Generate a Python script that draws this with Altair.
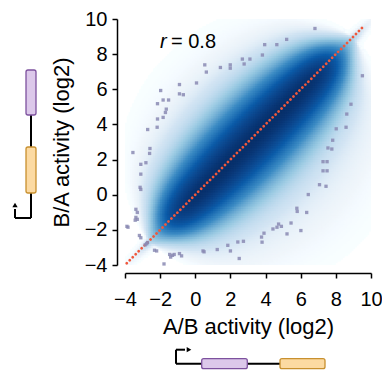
import altair as alt
import numpy as np
import pandas as pd

# ---- values ----
tick_values = [-4, -2, 0, 2, 4, 6, 8, 10]
axis_domain = [-4, 10]
x_title = "A/B activity (log2)"
y_title = "B/A activity (log2)"
r_label = "r"
r_value = "= 0.8"

# density cloud (estimated shape of the smoothed point cloud)
cloud_center_x = 3.2
cloud_center_y = 3.1
cloud_half_len = 7.0       # along the diagonal, where the cloud fades out
cloud_end_blur = 0.6
cloud_taper_len = 8.2      # width tapers to zero here
cloud_sd_across = 1.45     # spread across the diagonal at the middle
tail_weight = 0.12         # faint outer halo
tail_scale_below = 2.0     # halo width (x > y side) relative to core
tail_scale_above = 1.6     # halo width (y > x side) relative to core
density_levels = [0.0, 0.01, 0.05, 0.17, 0.4, 0.65, 0.9, 1.0]
density_colors = ["#ffffff", "#f0f6fb", "#d2e4f3", "#9ccbe3", "#3d8cc4", "#0b5ba8", "#0a3d80", "#08306b"]

# identity line
diag_x = [-3.9, 9.6]
diag_y = [-3.9, 9.6]

# outlying points
pts_x = [6.81, 5.2, 4.64, 3.95, 3.82, 3.11, 2.68, 2.78, 1.99, 1.99, 1.43, 0.54, 0.63, 0.07,
         -0.9, -0.9, -0.68, -1.97, -1.83, -1.52, -2.15, -1.65, -1.7, -1.83, -2.15, -2.17,
         -2.71, -2.58, -2.6, -3.55, -2.81, -3.1, -3.1, -3.14, -3.1, -3.38, -3.3, -3.38,
         -3.3, -3.42, -3.83, -3.18, -3.1, -2.77, -2.85, -2.72, -2.32, -2.2, -1.46, -1.3,
         -1.4, -1.2, -0.9, -0.78, -1.78, 0.44, 0.5, 1.25, 1.85, 2.0, 2.5, 2.42, 2.74,
         3.77, 3.8, 3.91, 4.42, 4.74, 4.9, 4.65, 5.22, 5.45, 6.01, 5.78, 5.8, 6.34, 6.43,
         7.07, 7.44, 7.27, 7.5, 7.27, 7.5, 7.55, 7.77, 7.82, 8.02, 8.58, 8.62, 8.86, 9.51,
         -3.89]
pts_y = [9.46, 8.84, 8.54, 8.54, 7.95, 7.72, 7.72, 7.44, 7.39, 7.2, 7.24, 7.39, 6.98, 6.36,
         6.27, 5.74, 5.69, 5.93, 5.39, 5.39, 5.18, 4.87, 4.68, 4.4, 4.31, 3.84,
         3.71, 2.63, 2.35, 2.4, 1.82, 1.73, 1.17, 0.42, 0.3, -0.83, -1.01, -1.29,
         -1.4, -1.45, -1.85, -2.32, -2.45, -2.79, -2.85, -2.72, -3.16, -3.2, -3.4, -3.45,
         -3.55, -3.4, -3.35, -3.48, -3.94, -3.2, -3.25, -3.12, -2.88, -3.2, -3.63, -2.69, -2.65,
         -2.41, -2.7, -2.19, -1.95, -1.67, -1.8, -1.85, -2.23, -1.61, -2.04, -0.77, -0.95, -1.01, 0.01,
         0.57, 0.48, 1.36, 1.36, 1.88, 1.88, 2.66, 2.6, 3.1, 3.75, 3.84, 4.59, 5.15, 6.77,
         -1.8]

# ---- density grid ----
step = 0.1
centers = np.arange(axis_domain[0] + step / 2, axis_domain[1], step)
gx, gy = np.meshgrid(centers, centers)
dx = gx - cloud_center_x
dy = gy - cloud_center_y
u = (dx + dy) / np.sqrt(2)
v = (dx - dy) / np.sqrt(2)
amp = 1.0 / (1.0 + np.exp((np.abs(u) - cloud_half_len) / cloud_end_blur))
width = cloud_sd_across * np.sqrt(np.clip(1 - (u / cloud_taper_len) ** 2, 0.01, None))
tail_w = width * np.where(v > 0, tail_scale_below, tail_scale_above)
dens = amp * (np.exp(-0.5 * (v / width) ** 2) + tail_weight * np.exp(-0.5 * (v / tail_w) ** 2))
dens = dens / dens.max()
keep = dens > 0.0015
grid = pd.DataFrame({
    "x0": np.round(gx[keep] - step / 2, 3),
    "y0": np.round(gy[keep] - step / 2, 3),
    "d": np.round(dens[keep], 4),
})

# ---- layout (page pixels) ----
OX, OY = 125, 19          # page position of the plot's top-left corner
PLOT_W, PLOT_H = 246, 246
FONT = "Liberation Sans"

xscale = alt.Scale(domain=axis_domain, nice=False, zero=False)
yscale = alt.Scale(domain=axis_domain, nice=False, zero=False)
common_axis = dict(values=tick_values, offset=8, grid=False, domainColor="black", domainWidth=1.5,
                   tickColor="black", tickWidth=1.5, tickSize=5, labelFontSize=20, labelColor="black",
                   labelFont=FONT, titleFont=FONT, titleFontSize=22, titleFontWeight="normal",
                   titleColor="black", labelFlush=False)
xaxis = alt.Axis(title=x_title, labelPadding=11, titlePadding=7, **common_axis)
yaxis = alt.Axis(title=y_title, labelPadding=5, titlePadding=11, **common_axis)

# cells are drawn twice their size so that each is covered by its later neighbours (no seams)
density = alt.Chart(grid).transform_calculate(
    x1=f"datum.x0 + {2 * step}", y1=f"datum.y0 + {2 * step}"
).mark_rect(clip=True).encode(
    x=alt.X("x0:Q", scale=xscale, axis=xaxis),
    x2="x1:Q",
    y=alt.Y("y0:Q", scale=yscale, axis=yaxis),
    y2="y1:Q",
    color=alt.Color("d:Q", scale=alt.Scale(domain=density_levels, range=density_colors), legend=None),
)

diag = alt.Chart(pd.DataFrame({"x": diag_x, "y": diag_y})).mark_line(
    color="#f0583c", strokeWidth=2.8, strokeDash=[0.01, 4.2], strokeCap="round"
).encode(
    x=alt.X("x:Q", scale=xscale, axis=xaxis),
    y=alt.Y("y:Q", scale=yscale, axis=yaxis),
)

points = alt.Chart(pd.DataFrame({"x": pts_x, "y": pts_y})).mark_square(
    size=11, color="#8a8ab3", opacity=0.85
).encode(
    x=alt.X("x:Q", scale=xscale, axis=xaxis),
    y=alt.Y("y:Q", scale=yscale, axis=yaxis),
)

one = alt.Data(values=[{"k": 0}])


def px(x):
    return x - OX


def py(y):
    return y - OY


txt_r = alt.Chart(one).mark_text(
    text=r_label, font=FONT, fontSize=20, fontStyle="italic", align="left", baseline="alphabetic", color="black"
).encode(x=alt.value(px(160)), y=alt.value(py(48)))
txt_v = alt.Chart(one).mark_text(
    text=r_value, font=FONT, fontSize=20, align="left", baseline="alphabetic", color="black"
).encode(x=alt.value(px(171)), y=alt.value(py(48)))

PURPLE_FILL, PURPLE_EDGE = "#dcc8ea", "#7d519e"
ORANGE_FILL, ORANGE_EDGE = "#fcdaa2", "#c8902f"


def rule(x, x2, y, y2):
    return alt.Chart(one).mark_rule(color="black", strokeWidth=2).encode(
        x=alt.value(px(x)), x2=alt.value(px(x2)), y=alt.value(py(y)), y2=alt.value(py(y2)))


def box(x, x2, y, y2, fill, edge):
    return alt.Chart(one).mark_rect(fill=fill, stroke=edge, strokeWidth=1.3, cornerRadius=2).encode(
        x=alt.value(px(x)), x2=alt.value(px(x2)), y=alt.value(py(y)), y2=alt.value(py(y2)))


def head(x, y, shape):
    return alt.Chart(one).mark_point(shape=shape, filled=True, color="black", size=28, opacity=1).encode(
        x=alt.value(px(x)), y=alt.value(py(y)))


BY = -3  # vertical nudge of bottom construct so the page does not scroll
deco = [
    # left construct (vertical)
    rule(31, 31, 115, 218),
    rule(15, 31, 218, 218),
    rule(15, 15, 209, 218),
    head(15, 205, "triangle-up"),
    box(26, 36, 70, 115, PURPLE_FILL, PURPLE_EDGE),
    box(26, 36, 147, 193, ORANGE_FILL, ORANGE_EDGE),
    # bottom construct (horizontal)
    rule(176, 176, 352.7 + BY, 366.7 + BY),
    rule(176, 185, 352.7 + BY, 352.7 + BY),
    head(189, 352.7 + BY, "triangle-right"),
    rule(176, 280, 366.7 + BY, 366.7 + BY),
    box(201.7, 247.3, 361.7 + BY, 371.7 + BY, PURPLE_FILL, PURPLE_EDGE),
    box(280, 325, 361.7 + BY, 371.7 + BY, ORANGE_FILL, ORANGE_EDGE),
]

chart = alt.layer(density, diag, points, txt_r, txt_v, *deco).properties(
    width=PLOT_W, height=PLOT_H,
    autosize=alt.AutoSizeParams(type="none"),
    padding={"left": OX - 8, "top": OY - 8, "right": 11, "bottom": 362 - (OY - 8) - PLOT_H},
).configure_view(stroke=None)

chart.save("out.html", embed_options={"renderer": "svg", "actions": False})
